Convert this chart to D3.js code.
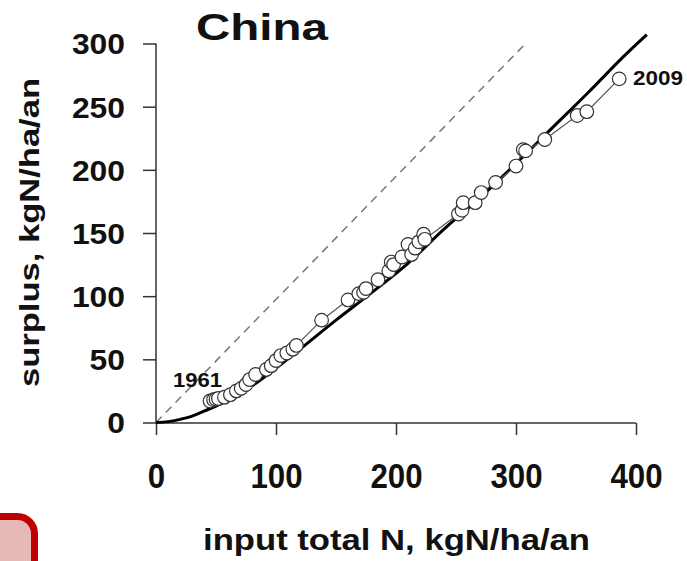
<!DOCTYPE html>
<html>
<head>
<meta charset="utf-8">
<script src="https://cdn.jsdelivr.net/npm/d3@7"></script>
<style>
  body { margin: 0; background: #fff; }
  text { font-family: Arial, "Liberation Sans", sans-serif; font-weight: bold; fill: #111; }
</style>
</head>
<body>
<svg id="chart" width="687" height="561"></svg>
<script>
// yearly points, 1961 -> 2009
const inputN = [45, 48, 50, 52, 57, 62, 67, 71, 75, 78, 83, 92, 96, 100, 104, 109, 114, 117,
  138, 160, 169, 173, 175, 185, 194, 196, 198, 205, 210, 213, 216, 219, 223, 224,
  252, 255, 256, 266, 271, 283, 300, 306, 308, 324, 351, 359, 386];
const surplus = [17, 18, 18.5, 19, 20, 22, 25, 27, 30, 34, 38, 42, 45, 49, 53, 55, 58, 61,
  81, 97, 102, 103, 106, 113, 120, 127, 125, 131, 141, 133, 138, 143, 149, 145,
  165, 168, 174, 174, 182, 190, 203, 216, 215, 224, 243, 246, 272];
const firstYear = '1961';
const lastYear = '2009';

// fitted curve
const fitInput = [0, 10, 20, 30, 40, 50, 60, 80, 100, 120, 150, 180, 210, 240, 270, 300, 330, 360, 390, 409];
const fitSurplus = [0, 0.7, 2.5, 5, 9, 13, 18, 29, 43, 58, 81, 103, 126, 153, 178, 205, 233, 261, 290, 307];

// dashed reference line
const refInput = [0, 308];
const refSurplus = [0, 300];

const xTicks = [0, 100, 200, 300, 400];
const yTicks = [0, 50, 100, 150, 200, 250, 300];

const svg = d3.select('#chart');

const x = d3.scaleLinear().domain([0, 400]).range([156, 636]);
const y = d3.scaleLinear().domain([0, 300]).range([422.5, 43.5]);

// pink box peeking in at bottom left
svg.append('rect')
  .attr('x', -80).attr('y', 516.5)
  .attr('width', 114.5).attr('height', 120)
  .attr('rx', 17)
  .attr('fill', '#e6b9b8')
  .attr('stroke', '#c00000')
  .attr('stroke-width', 7);

// axes
const yAxis = svg.append('g')
  .attr('transform', 'translate(156,0)')
  .call(d3.axisLeft(y).tickValues(yTicks).tickSize(13).tickPadding(18));
yAxis.select('.domain').attr('d', `M0,${y(300)}V${y(0)}`);

const xAxis = svg.append('g')
  .attr('transform', 'translate(0,423)')
  .call(d3.axisBottom(x).tickValues(xTicks).tickSize(12).tickPadding(28));
xAxis.select('.domain').attr('d', `M${x(0)},0H${x(400)}`);

svg.selectAll('.domain, .tick line')
  .attr('stroke', '#333').attr('stroke-width', 1.5);

yAxis.selectAll('.tick text')
  .attr('font-size', 29).attr('fill', '#111')
  .attr('font-family', 'Arial, "Liberation Sans", sans-serif')
  .attr('dy', '0.36em')
  .attr('textLength', d => String(d).length * 17.7)
  .attr('lengthAdjust', 'spacingAndGlyphs');

xAxis.selectAll('.tick text')
  .attr('font-size', 35).attr('fill', '#111')
  .attr('font-family', 'Arial, "Liberation Sans", sans-serif')
  .attr('dy', '0.71em')
  .attr('textLength', d => String(d).length * 17.4)
  .attr('lengthAdjust', 'spacingAndGlyphs');

// dashed 1:1 line
svg.append('line')
  .attr('x1', x(refInput[0])).attr('y1', y(refSurplus[0]))
  .attr('x2', x(refInput[1])).attr('y2', y(refSurplus[1]))
  .attr('stroke', '#777').attr('stroke-width', 1.5)
  .attr('stroke-dasharray', '8,6');

// fitted curve
const fit = fitInput.map((d, i) => [d, fitSurplus[i]]);
svg.append('path')
  .datum(fit)
  .attr('fill', 'none')
  .attr('stroke', '#000')
  .attr('stroke-width', 3)
  .attr('d', d3.line().x(d => x(d[0])).y(d => y(d[1])).curve(d3.curveMonotoneX));

// yearly series
const pts = inputN.map((d, i) => [d, surplus[i]]);
svg.append('path')
  .datum(pts)
  .attr('fill', 'none')
  .attr('stroke', '#555')
  .attr('stroke-width', 1.2)
  .attr('d', d3.line().x(d => x(d[0])).y(d => y(d[1])));

svg.selectAll('circle.pt')
  .data(pts)
  .enter()
  .append('circle')
  .attr('class', 'pt')
  .attr('cx', d => x(d[0]))
  .attr('cy', d => y(d[1]))
  .attr('r', 6.8)
  .attr('fill', '#fff')
  .attr('stroke', '#333')
  .attr('stroke-width', 1.2);

// year labels
svg.append('text')
  .attr('x', 173).attr('y', 387)
  .attr('font-size', 20)
  .attr('textLength', 49).attr('lengthAdjust', 'spacingAndGlyphs')
  .text(firstYear);

svg.append('text')
  .attr('x', 633).attr('y', 85)
  .attr('font-size', 20)
  .attr('textLength', 50).attr('lengthAdjust', 'spacingAndGlyphs')
  .text(lastYear);

// titles
svg.append('text')
  .attr('x', 196).attr('y', 40)
  .attr('font-size', 37)
  .attr('textLength', 132).attr('lengthAdjust', 'spacingAndGlyphs')
  .text('China');

svg.append('text')
  .attr('x', 203).attr('y', 550)
  .attr('font-size', 30)
  .attr('textLength', 387).attr('lengthAdjust', 'spacingAndGlyphs')
  .text('input total N, kgN/ha/an');

svg.append('text')
  .attr('transform', 'translate(39,387) rotate(-90)')
  .attr('font-size', 28)
  .attr('textLength', 309).attr('lengthAdjust', 'spacingAndGlyphs')
  .text('surplus, kgN/ha/an');
</script>
</body>
</html>
